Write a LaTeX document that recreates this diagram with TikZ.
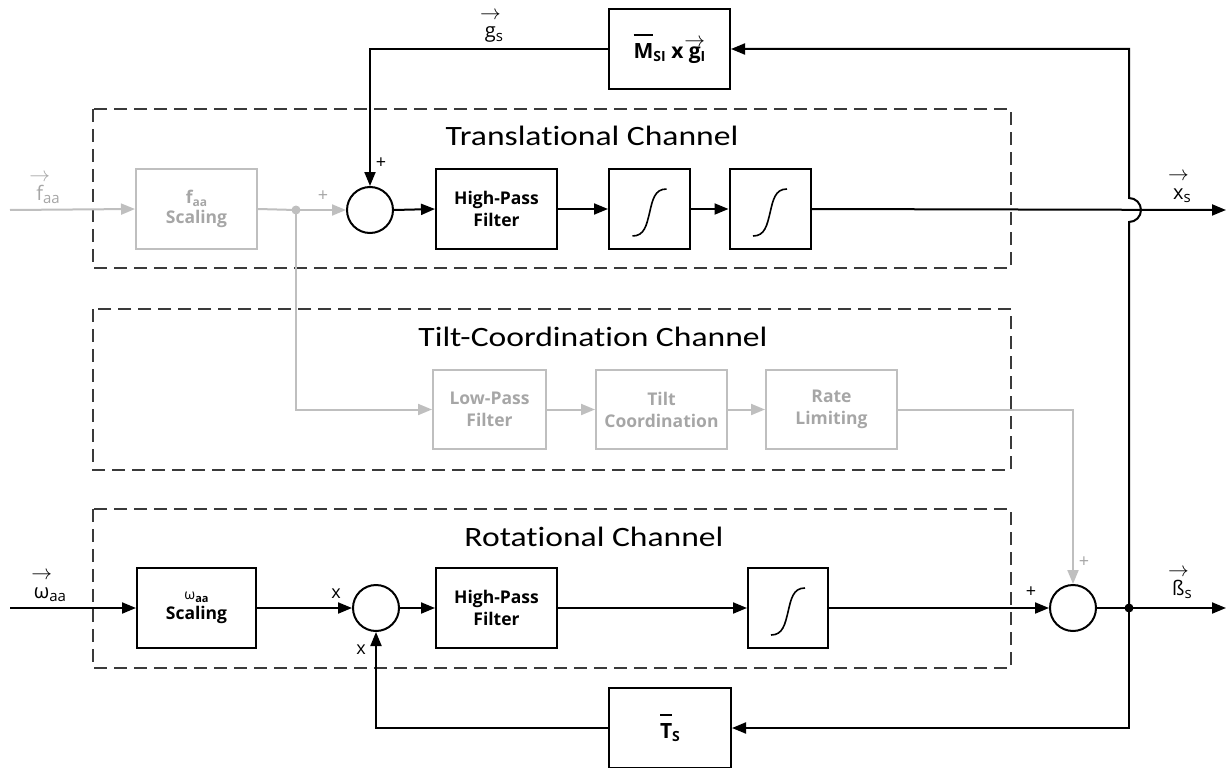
\documentclass[tikz,border=0pt]{standalone}
\usepackage{fontspec}
\setmainfont{Open Sans}
\newfontfamily\titlefont[FakeStretch=1.2, Ligatures=NoCommon]{Carlito}
\usetikzlibrary{arrows.meta,calc}
\definecolor{lite}{HTML}{BFBFBF}
\definecolor{litetext}{HTML}{A6A6A6}
\definecolor{frame}{HTML}{3A3A3A}
% vector arrow over a letter: [raise]{letter}
\newcommand{\vecl}[2][19pt]{\setbox0\hbox{#2}\rlap{\makebox[\wd0][c]{\raisebox{#1}{\fontsize{20}{20}\selectfont$\rightarrow$}}}\box0}
% bar over a letter
\newcommand{\barl}[1]{\setbox0\hbox{#1}\rlap{\raisebox{\dimexpr\ht0+7pt\relax}{\rule{\wd0}{2pt}}}\box0}
% lowered small index: [size]{text}
\newcommand{\subs}[2][14]{\raisebox{-3pt}{\fontsize{#1}{#1}\selectfont #2}}
\tikzset{
  blk/.style={draw, line width=2pt, minimum height=80pt, inner sep=0pt, align=center,
    font=\fontsize{17.5}{22}\selectfont\bfseries},
  liteblk/.style={blk, draw=lite, text=litetext},
  sumnode/.style={draw, circle, line width=2pt, minimum size=46pt, inner sep=0pt},
  wire/.style={line width=2pt},
  litewire/.style={line width=2pt, draw=lite},
  tip/.style={-{Triangle[length=14pt,width=11pt]}},
  litetip/.style={-{Triangle[length=14pt,width=11pt,fill=lite]}},
  channel/.style={draw=frame, line width=1.2pt, dash pattern=on 13pt off 7pt},
  chantitle/.style={font=\titlefont\fontsize{28}{30}\selectfont},
  sig/.style={font=\fontsize{20}{22}\selectfont, inner sep=0pt},
  sign/.style={font=\fontsize{18}{20}\selectfont, inner sep=0pt},
}
% integrator symbol inside a block
\newcommand{\integ}[1]{\draw[line width=1.6pt] ($(#1)+(-17,27)$) .. controls ($(#1)+(-5,27)$) and ($(#1)+(-3,16)$) .. ($(#1)+(0,4)$) .. controls ($(#1)+(3,-9)$) and ($(#1)+(5,-20)$) .. ($(#1)+(17,-20)$);}
\begin{document}
\begin{tikzpicture}[x=1pt,y=-1pt]
\useasboundingbox (0,0) rectangle (1226,768);

% channel frames
\draw[channel] (93,109) rectangle (1011,268);
\draw[channel] (93,309) rectangle (1011,470);
\draw[channel] (93,509) rectangle (1011,668);
\node[chantitle] (tT) at (592,136) {Translational Channel};
\node[chantitle] (tC) at (593,337) {Tilt-Coordination Channel};
\node[chantitle] (tR) at (594,537) {Rotational Channel};

% translational channel
\coordinate (fin) at (10,210);
\node[liteblk, minimum width=121pt] (fsc) at (196.5,209) {f\subs[12]{aa}\\[-2pt]Scaling};
\coordinate (br) at (296,210);
\node[sumnode] (sT) at (370,210) {};
\node[blk, minimum width=121pt] (hpT) at (496.5,209) {High-Pass\\Filter};
\node[blk, minimum width=81pt] (i1) at (649.5,209) {};
\node[blk, minimum width=81pt] (i2) at (770,209) {};
\integ{i1}
\integ{i2}
\coordinate (xout) at (1226,210);
\node[blk, minimum width=121pt, font=\fontsize{21}{24}\selectfont\bfseries] (mb) at (669.5,49)
  {\barl{M}\subs[14]{SI} x \vecl[12pt]{g}\subs[14]{I}};
\coordinate (gc) at (370,49);

\draw[litewire, litetip] (fin) -- (fsc.west);
\draw[litewire] (fsc.east) -- (br);
\draw[litewire, litetip] (br) -- (sT.west);
\fill[lite] (br) circle (4.5);
\draw[wire, tip] (sT.east) -- (hpT.west);
\draw[wire, tip] (hpT.east) -- (i1.west);
\draw[wire, tip] (i1.east) -- (i2.west);
\draw[wire, tip] (i2.east) -- (xout);
\draw[wire, tip] (mb.west) -- (gc) -- (sT.north);

% tilt-coordination channel
\node[liteblk, minimum width=113pt, minimum height=79pt] (lp) at (489.5,409.5) {Low-Pass\\Filter};
\node[liteblk, minimum width=131pt, minimum height=79pt] (tc) at (661.5,409.5) {Tilt\\Coordination};
\node[liteblk, minimum width=131pt, minimum height=79pt] (rl) at (831.5,409.5) {Rate\\Limiting};
\coordinate (lpc) at (296,409.5);
\coordinate (rlc) at (1073,409.5);
\draw[litewire, litetip] (br) -- (lpc) -- (lp.west);
\draw[litewire, litetip] (lp.east) -- (tc.west);
\draw[litewire, litetip] (tc.east) -- (rl.west);

% rotational channel
\coordinate (win) at (10,608);
\node[blk, minimum width=119pt] (wsc) at (196.5,608) {{\fontsize{14}{14}\selectfont\mdseries ω\subs[11]{\bfseries aa}}\\[-2pt]Scaling};
\node[sumnode] (sR) at (376,608) {};
\node[blk, minimum width=121pt] (hpR) at (496.5,608) {High-Pass\\Filter};
\node[blk, minimum width=80pt] (iR) at (788,608) {};
\integ{iR}
\node[sumnode] (sO) at (1073,608) {};
\coordinate (jn) at (1129,608);
\coordinate (bout) at (1226,608);
\node[blk, minimum width=122pt, font=\fontsize{21}{24}\selectfont\bfseries] (ts) at (670,728) {\barl{T}\subs[14]{S}};
\coordinate (tsr) at (1129,728);
\coordinate (tsl) at (376,728);

\draw[litewire, litetip] (rl.east) -- (rlc) -- (sO.north);
\draw[wire, tip] (win) -- (wsc.west);
\draw[wire, tip] (wsc.east) -- (sR.west);
\draw[wire, tip] (sR.east) -- (hpR.west);
\draw[wire, tip] (hpR.east) -- (iR.west);
\draw[wire, tip] (iR.east) -- (sO.west);
\draw[wire, tip] (sO.east) -- (bout);
\fill (jn) circle (4.5);
\draw[wire, tip] (jn) -- (tsr) -- (ts.east);
\draw[wire, tip] (ts.west) -- (tsl) -- (sR.south);
% feedback up to the gravity block, hopping over the x_s line
\coordinate (hopb) at (1129,222);
\coordinate (mbr) at (1129,49);
\draw[wire, tip] (jn) -- (hopb) arc[start angle=90, end angle=-90, radius=12] -- (mbr) -- (mb.east);

% signal labels
\node[sig, text=litetext, anchor=base] (lf) at (48,200) {\vecl{f}\subs[15]{aa}};
\node[sig, anchor=base] (lg) at (494,38) {\vecl[18pt]{g}\subs[15]{s}};
\node[sig, anchor=base] (lx) at (1182,199) {\vecl{x}\subs[15]{s}};
\node[sig, anchor=base] (lw) at (50,598) {\vecl{ω}\subs[15]{aa}};
\node[sig, anchor=base] (lb) at (1182,595) {\vecl{ß}\subs[15]{s}};

% summing signs
\node[sign, text=litetext] (p1) at (323,196) {+};
\node[sign] (p2) at (381,163) {+};
\node[sign] (x1) at (336,594) {x};
\node[sign] (x2) at (361,650) {x};
\node[sign] (p3) at (1031,592) {+};
\node[sign, text=litetext] (p4) at (1084,562) {+};
\end{tikzpicture}
\end{document}
